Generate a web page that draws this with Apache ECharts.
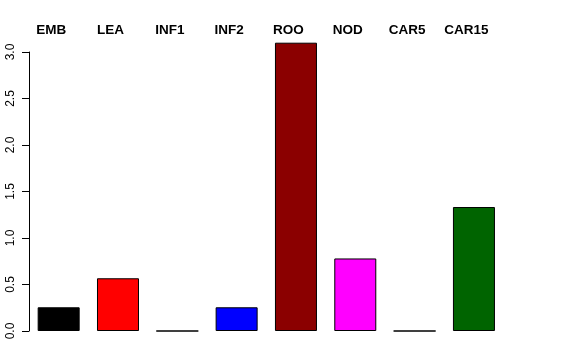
<!DOCTYPE html>
<html><head><meta charset="utf-8">
<script src="https://cdn.jsdelivr.net/npm/echarts@6/dist/echarts.min.js"></script>
<style>html,body{margin:0;padding:0;background:#fff}#c{width:576px;height:360px}</style>
</head><body><div id="c"></div>
<script>
const categories = ["EMB","LEA","INF1","INF2","ROO","NOD","CAR5","CAR15"];
const values = [0.255, 0.567, 0, 0.255, 3.10, 0.78, 0, 1.333];
const colors = ["#000000","#FF0000","#00CD00","#0000FF","#8B0000","#FF00FF","#FFA500","#006400"];
const yTicks = [0, 0.5, 1.0, 1.5, 2.0, 2.5, 3.0];

const chart = echarts.init(document.getElementById('c'), null, {renderer:'canvas'});
chart.setOption({
  animation:false,
  backgroundColor:'#fff',
  grid:{left:29, right:72.4, top:52, bottom:29, containLabel:false},
  xAxis:{type:'category', data:categories, position:'top',
    axisLine:{show:false}, axisTick:{show:false},
    axisLabel:{fontFamily:'Liberation Sans', fontWeight:'bold', fontSize:13.5, color:'#000', margin:15, padding:[0,15,0,0], interval:0}
  },
  yAxis:{type:'value', min:yTicks[0], max:yTicks[yTicks.length-1], interval:0.5,
    splitLine:{show:false},
    axisLine:{show:true, lineStyle:{color:'#000', width:1}},
    axisTick:{show:true, length:7, lineStyle:{color:'#000'}},
    axisLabel:{rotate:90, fontFamily:'Liberation Sans', fontSize:12, color:'#000', margin:12,
      formatter:v=>v.toFixed(1)}
  },
  series:[{type:'bar', clip:false, barWidth:42,
    data:values.map((v,i)=>({value:v, itemStyle:{color:colors[i]}})),
    itemStyle:{borderColor:'#000', borderWidth:1}
  }]
});
</script></body></html>
